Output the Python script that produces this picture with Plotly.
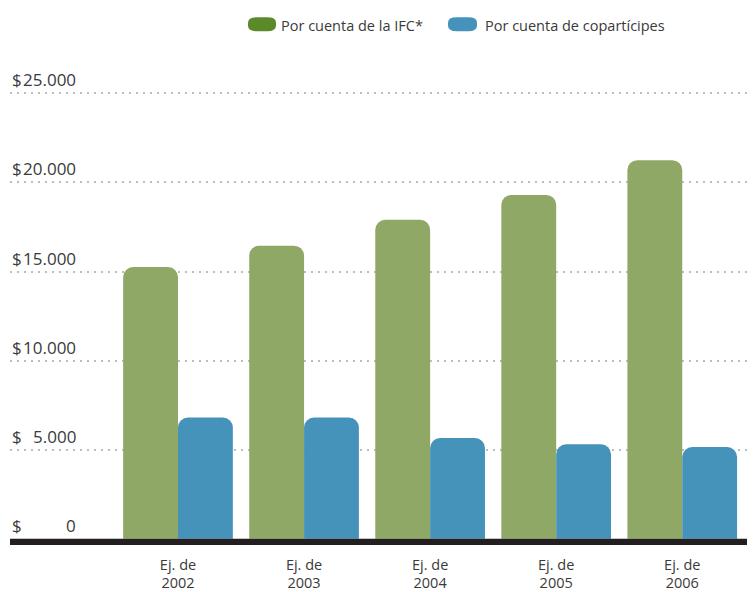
import plotly.graph_objects as go

# =========================
# DATA
# =========================
YEARS = ["2002", "2003", "2004", "2005", "2006"]
X_LABELS = ["Ej. de<br>" + y for y in YEARS]

IFC = [15250, 16450, 17900, 19300, 21250]
COPART = [6800, 6800, 5650, 5300, 5150]

SERIES_NAMES = ["Por cuenta de la IFC*", "Por cuenta de copartícipes"]

Y_TICKS = [0, 5000, 10000, 15000, 20000, 25000]
Y_TICK_TEXT = ["0", "5.000", "10.000", "15.000", "20.000", "25.000"]

# =========================
# STYLE
# =========================
GREEN = "#8fa865"
BLUE = "#4592bb"
LEGEND_GREEN = "#5a8a2a"
TEXT = "#3a3a3a"
FONT = "Open Sans"

# the page body has an 8px margin and the page is shrunk to fit its width,
# so the figure is kept at 755 - 16 px wide and placed 8px in
W, H = 739, 584
PX_PER_CAT = 126.06  # horizontal spacing of the year groups

fig = go.Figure()

fig.add_bar(x=X_LABELS, y=IFC, name=SERIES_NAMES[0],
            marker=dict(color=GREEN, line=dict(width=0)))
fig.add_bar(x=X_LABELS, y=COPART, name=SERIES_NAMES[1],
            marker=dict(color=BLUE, line=dict(width=0)))

fig.update_layout(
    width=W, height=H,
    margin=dict(l=2, r=0, t=80, b=H - 539),
    paper_bgcolor="white", plot_bgcolor="white",
    barmode="group", bargap=0.13, bargroupgap=0,
    barcornerradius=10,
    showlegend=False,
    font=dict(family=FONT, color=TEXT),
)

PW = W - 2
x_lo = -(178 - 10) / PX_PER_CAT
fig.update_xaxes(
    range=[x_lo, x_lo + PW / PX_PER_CAT],
    showgrid=False, zeroline=False, showline=False, ticks="",
    tickfont=dict(size=14.5, color=TEXT),
    ticklabelstandoff=9,
)
fig.update_yaxes(
    range=[-350, 25300],
    tickvals=Y_TICKS[1:], showticklabels=False,
    showgrid=True, gridcolor="#bdbdbd", gridwidth=2, griddash="2px,5px",
    zeroline=False, showline=False,
)

# thick black baseline
fig.add_shape(type="rect", xref="paper", x0=0, x1=1, yref="y", y0=-350, y1=0,
              fillcolor="#231f20", line=dict(width=0), layer="above")

# y tick labels sitting above the gridlines
for v, t in zip(Y_TICKS, Y_TICK_TEXT):
    fig.add_annotation(xref="paper", x=0, yref="y", y=v, text="$",
                       showarrow=False, xanchor="left", yanchor="bottom",
                       yshift=0, font=dict(size=17, color=TEXT))
    fig.add_annotation(xref="paper", x=68 / PW, yref="y", y=v, text=t,
                       showarrow=False, xanchor="right", yanchor="bottom",
                       yshift=0, font=dict(size=17, color=TEXT))

# legend at top
def pill(x0, x1, y0, y1, r, color):
    path = (f"M{x0 + r},{y0} L{x1 - r},{y0} Q{x1},{y0} {x1},{y0 + r} "
            f"L{x1},{y1 - r} Q{x1},{y1} {x1 - r},{y1} L{x0 + r},{y1} "
            f"Q{x0},{y1} {x0},{y1 - r} L{x0},{y0 + r} Q{x0},{y0} {x0 + r},{y0} Z")
    fig.add_shape(type="path", xref="paper", yref="paper", path=path,
                  fillcolor=color, line=dict(width=0))

PH = 539 - 80
def px_x(p):
    return (p - 10) / PW
def px_y(p):
    return (547 - p) / PH

pill(px_x(248), px_x(276), px_y(31), px_y(17), 0.012, LEGEND_GREEN)
pill(px_x(448), px_x(477), px_y(31), px_y(17), 0.012, BLUE)
fig.add_annotation(xref="paper", yref="paper", x=px_x(279), y=px_y(25),
                   text=SERIES_NAMES[0], showarrow=False, xanchor="left",
                   yanchor="middle", font=dict(size=14.5, color=TEXT))
fig.add_annotation(xref="paper", yref="paper", x=px_x(483), y=px_y(25),
                   text=SERIES_NAMES[1], showarrow=False, xanchor="left",
                   yanchor="middle", font=dict(size=14.5, color=TEXT))

fig.write_html("out.html")
